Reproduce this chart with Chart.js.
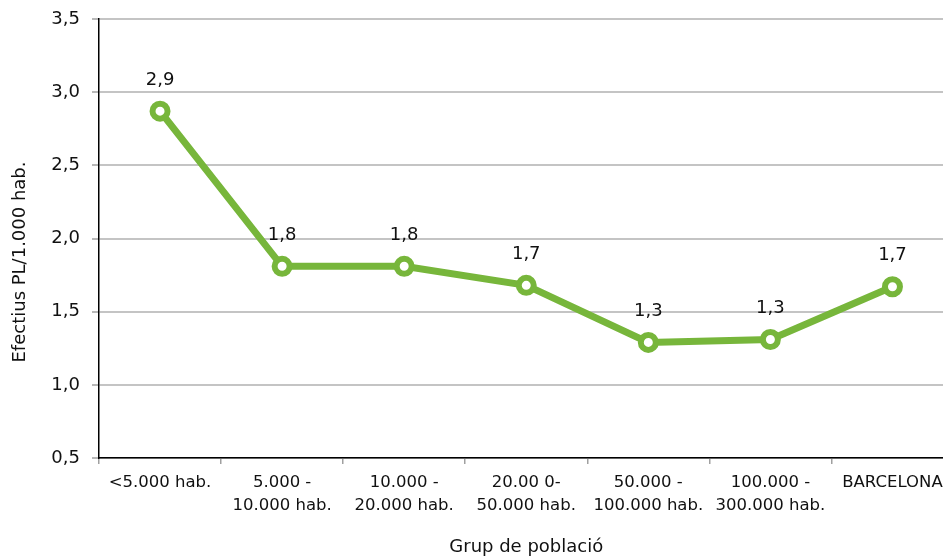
<!DOCTYPE html>
<html>
<head>
<meta charset="utf-8">
<script src="https://cdn.jsdelivr.net/npm/chart.js@4"></script>
<style>
  html, body { margin: 0; padding: 0; background: #fff; overflow: hidden; }
  canvas { display: block; }
</style>
</head>
<body>
<canvas id="chart" width="967" height="558"></canvas>
<script>
const categories = [
  '<5.000 hab.',
  ['5.000 -', '10.000 hab.'],
  ['10.000 -', '20.000 hab.'],
  ['20.00 0-', '50.000 hab.'],
  ['50.000 -', '100.000 hab.'],
  ['100.000 -', '300.000 hab.'],
  'BARCELONA'
];
const efectius = [2.87, 1.81, 1.81, 1.68, 1.29, 1.31, 1.67];
const yTicks = [0.5, 1.0, 1.5, 2.0, 2.5, 3.0, 3.5];
const yTitle = 'Efectius PL/1.000 hab.';
const xTitle = 'Grup de població';

const green = '#77b63b';
const font = "'DejaVu Sans', Tahoma, sans-serif";
const fmt = v => v.toFixed(1).replace('.', ',');

// values above each point + the y axis title (sits a bit below the axis middle)
const extras = {
  id: 'extras',
  afterDatasetsDraw(chart) {
    const ctx = chart.ctx;
    const meta = chart.getDatasetMeta(0);
    ctx.save();
    ctx.font = '18px ' + font;
    ctx.fillStyle = '#111';
    ctx.textAlign = 'center';
    ctx.textBaseline = 'middle';
    meta.data.forEach((pt, i) => {
      ctx.fillText(fmt(efectius[i]), pt.x, pt.y - 31);
    });
    ctx.translate(20, 262);
    ctx.rotate(-Math.PI / 2);
    ctx.fillText(yTitle, 0, 0);
    ctx.restore();
  }
};

new Chart(document.getElementById('chart').getContext('2d'), {
  type: 'line',
  data: {
    labels: categories,
    datasets: [{
      data: efectius,
      borderColor: green,
      borderWidth: 7,
      backgroundColor: '#fff',
      pointBackgroundColor: '#fff',
      pointBorderColor: green,
      pointBorderWidth: 6,
      pointRadius: 7.5,
      tension: 0
    }]
  },
  options: {
    responsive: false,
    animation: false,
    layout: { padding: { top: 19, right: 0, left: 0, bottom: 0 } },
    plugins: { legend: { display: false }, tooltip: { enabled: false } },
    scales: {
      x: {
        offset: true,
        afterFit: axis => { axis.height = 100; axis.paddingLeft = 0; axis.paddingRight = 0; },
        grid: { drawOnChartArea: false, offset: true, tickLength: 6, color: '#a0a0a0', lineWidth: 1.5 },
        border: { color: '#000', width: 1.5 },
        ticks: { color: '#111', font: { size: 16.5, family: font, lineHeight: 1.35 }, maxRotation: 0, autoSkip: false, padding: 8 },
        title: { display: true, text: xTitle, color: '#111', font: { size: 18, family: font }, padding: { top: 0, bottom: 0 } }
      },
      y: {
        min: 0.5,
        max: 3.5,
        afterBuildTicks: axis => { axis.ticks = yTicks.map(v => ({ value: v })); },
        afterFit: axis => { axis.width = 99; axis.paddingTop = 0; axis.paddingBottom = 0; },
        grid: { color: '#c4c4c4', lineWidth: 2, tickLength: 7, tickColor: '#a0a0a0', tickWidth: 1.5 },
        border: { color: '#000', width: 1.5 },
        ticks: { color: '#111', font: { size: 18, family: font }, padding: 12, callback: v => fmt(v) }
      }
    }
  },
  plugins: [extras]
});
</script>
</body>
</html>
